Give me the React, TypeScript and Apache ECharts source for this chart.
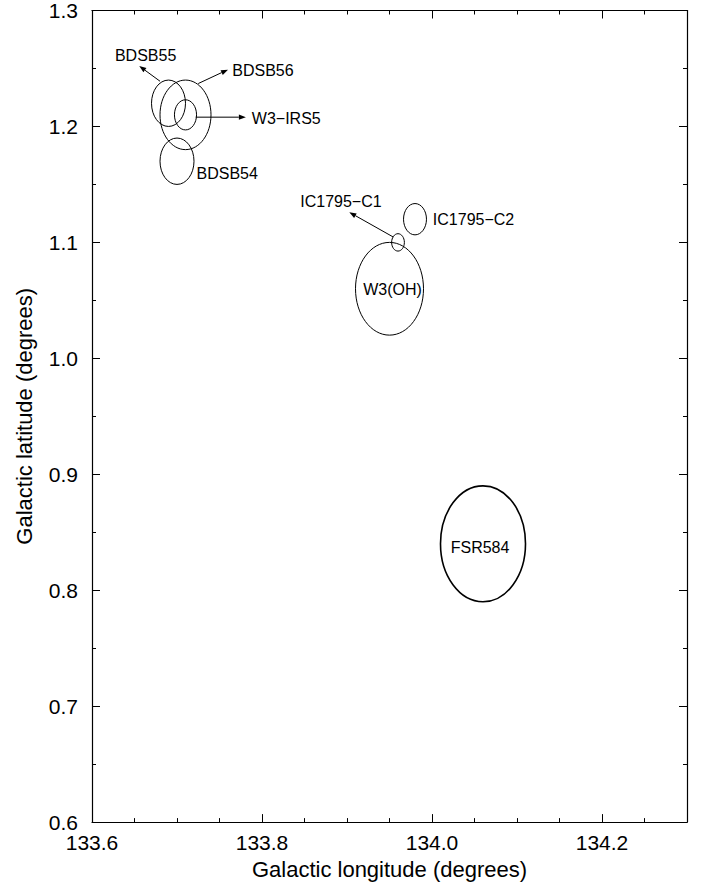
import React, { useEffect, useRef } from "react";
import * as echarts from "echarts";

// Sources: centre (galactic lon/lat, degrees) and radius (degrees)
const sourceNames = ["BDSB55", "BDSB56", "W3-IRS5", "BDSB54", "IC1795-C1", "IC1795-C2", "W3(OH)", "FSR584"];
const centerLon = [133.69, 133.71, 133.71, 133.70, 133.96, 133.98, 133.95, 134.06];
const centerLat = [1.22, 1.21, 1.21, 1.17, 1.10, 1.12, 1.06, 0.84];
const radius = [0.02, 0.03, 0.013, 0.02, 0.0075, 0.0135, 0.04, 0.05];

// Annotation labels (left edge of text, data coordinates)
const labelTexts = ["BDSB55", "BDSB56", "W3\u2212IRS5", "BDSB54", "IC1795\u2212C1", "IC1795\u2212C2", "W3(OH)", "FSR584"];
const labelLon = [133.627, 133.765, 133.788, 133.723, 133.845, 134.001, 133.919, 134.022];
const labelLat = [1.2613, 1.2484, 1.2069, 1.1596, 1.1352, 1.1194, 1.0592, 0.837];

// Arrows (from -> to, data coordinates)
const arrowFromLon = [133.680, 133.725, 133.722, 133.9545];
const arrowFromLat = [1.239, 1.237, 1.208, 1.1046];
const arrowToLon = [133.6556, 133.760, 133.781, 133.9027];
const arrowToLat = [1.2521, 1.249, 1.208, 1.126];

// Axes
const xMin = 133.6;
const xMax = 134.3;
const yMin = 0.6;
const yMax = 1.3;
const xTickLabels = ["133.6", "133.8", "134.0", "134.2"];
const yTickLabels = ["0.6", "0.7", "0.8", "0.9", "1.0", "1.1", "1.2", "1.3"];

const FONT = '"Liberation Sans", Arial, Helvetica, sans-serif';

export default function App() {
  const ref = useRef<HTMLDivElement>(null);

  useEffect(() => {
    if (!ref.current) return;
    const chart = echarts.init(ref.current, undefined, { renderer: "svg" });

    const lineStyle = { color: "#000", width: 1.2 };
    const tickStyle = { color: "#000", width: 1 };

    const majorX = (position: string, showLabel: boolean, withName: boolean) => ({
      type: "value",
      position,
      min: xMin,
      max: xMax,
      interval: 0.2,
      axisLine: { show: true, lineStyle },
      axisTick: { show: true, inside: true, length: 8, lineStyle: tickStyle },
      splitLine: { show: false },
      axisLabel: {
        show: showLabel,
        color: "#000",
        fontSize: 21,
        fontFamily: FONT,
        margin: 10,
        showMaxLabel: false,
        formatter: (v: number) => {
          const s = v.toFixed(1);
          return xTickLabels.indexOf(s) >= 0 ? s : "";
        },
      },
      ...(withName
        ? {
            name: "Galactic longitude (degrees)",
            nameLocation: "middle",
            nameGap: 32,
            nameTextStyle: { color: "#000", fontSize: 22, fontFamily: FONT },
          }
        : {}),
    });

    const minorX = (position: string) => ({
      type: "value",
      position,
      min: xMin,
      max: xMax,
      interval: 0.05,
      axisLine: { show: false },
      axisTick: { show: true, inside: true, length: 4, lineStyle: tickStyle },
      splitLine: { show: false },
      axisLabel: { show: false },
    });

    const yAx = (position: string, showLabel: boolean, withName: boolean) => ({
      type: "value",
      position,
      min: yMin,
      max: yMax,
      interval: 0.1,
      axisLine: { show: true, lineStyle },
      axisTick: { show: true, inside: true, length: 8, lineStyle: tickStyle },
      minorTick: { show: true, splitNumber: 2, length: 4, lineStyle: tickStyle },
      splitLine: { show: false },
      minorSplitLine: { show: false },
      axisLabel: {
        show: showLabel,
        color: "#000",
        fontSize: 21,
        fontFamily: FONT,
        margin: 14,
        formatter: (v: number) => {
          const s = v.toFixed(1);
          return yTickLabels.indexOf(s) >= 0 ? s : "";
        },
      },
      ...(withName
        ? {
            name: "Galactic latitude (degrees)",
            nameLocation: "middle",
            nameGap: 57,
            nameRotate: 90,
            nameTextStyle: { color: "#000", fontSize: 22, fontFamily: FONT },
          }
        : {}),
    });

    const ellipseData = sourceNames.map((_, i) => [centerLon[i], centerLat[i], radius[i]]);
    const arrowData = arrowFromLon.map((_, i) => [arrowFromLon[i], arrowFromLat[i], arrowToLon[i], arrowToLat[i]]);
    const labelData = labelTexts.map((_, i) => [labelLon[i], labelLat[i]]);

    chart.setOption({
      animation: false,
      backgroundColor: "#fff",
      grid: { left: 92, right: 15, top: 10, bottom: 61, containLabel: false },
      xAxis: [majorX("bottom", true, true), minorX("bottom"), majorX("top", false, false), minorX("top")],
      yAxis: [yAx("left", true, true), yAx("right", false, false)],
      series: [
        {
          type: "custom",
          name: "sources",
          xAxisIndex: 0,
          yAxisIndex: 0,
          data: ellipseData,
          encode: { x: 0, y: 1 },
          renderItem: (params: any, api: any) => {
            const lon = api.value(0);
            const lat = api.value(1);
            const r = api.value(2);
            const c = api.coord([lon, lat]);
            const s = api.size([r, r], [lon, lat]);
            return {
              type: "ellipse",
              shape: { cx: c[0], cy: c[1], rx: s[0], ry: s[1] },
              style: { fill: "none", stroke: "#000", lineWidth: r >= 0.05 ? 1.6 : 1 },
            };
          },
        },
        {
          type: "custom",
          name: "arrows",
          xAxisIndex: 0,
          yAxisIndex: 0,
          data: arrowData,
          encode: { x: [0, 2], y: [1, 3] },
          renderItem: (params: any, api: any) => {
            const p1 = api.coord([api.value(0), api.value(1)]);
            const p2 = api.coord([api.value(2), api.value(3)]);
            const dx = p2[0] - p1[0];
            const dy = p2[1] - p1[1];
            const len = Math.sqrt(dx * dx + dy * dy) || 1;
            const ux = dx / len;
            const uy = dy / len;
            const hl = 7;
            const hw = 2.6;
            const bx = p2[0] - ux * hl;
            const by = p2[1] - uy * hl;
            return {
              type: "group",
              children: [
                {
                  type: "line",
                  shape: { x1: p1[0], y1: p1[1], x2: bx, y2: by },
                  style: { stroke: "#000", lineWidth: 1 },
                },
                {
                  type: "polygon",
                  shape: {
                    points: [
                      [p2[0], p2[1]],
                      [bx - uy * hw, by + ux * hw],
                      [bx + uy * hw, by - ux * hw],
                    ],
                  },
                  style: { fill: "#000", stroke: "none" },
                },
              ],
            };
          },
        },
        {
          type: "custom",
          name: "labels",
          xAxisIndex: 0,
          yAxisIndex: 0,
          data: labelData,
          encode: { x: 0, y: 1 },
          renderItem: (params: any, api: any) => {
            const p = api.coord([api.value(0), api.value(1)]);
            return {
              type: "text",
              x: p[0],
              y: p[1],
              style: {
                text: labelTexts[params.dataIndex],
                fill: "#000",
                fontSize: 16,
                fontFamily: FONT,
                align: "left",
                verticalAlign: "middle",
              },
            };
          },
        },
      ],
    });

    return () => {
      chart.dispose();
    };
  }, []);

  return (
    <div
      ref={ref}
      style={{ position: "absolute", left: 0, top: 0, width: 702, height: 885, background: "#fff" }}
    />
  );
}
